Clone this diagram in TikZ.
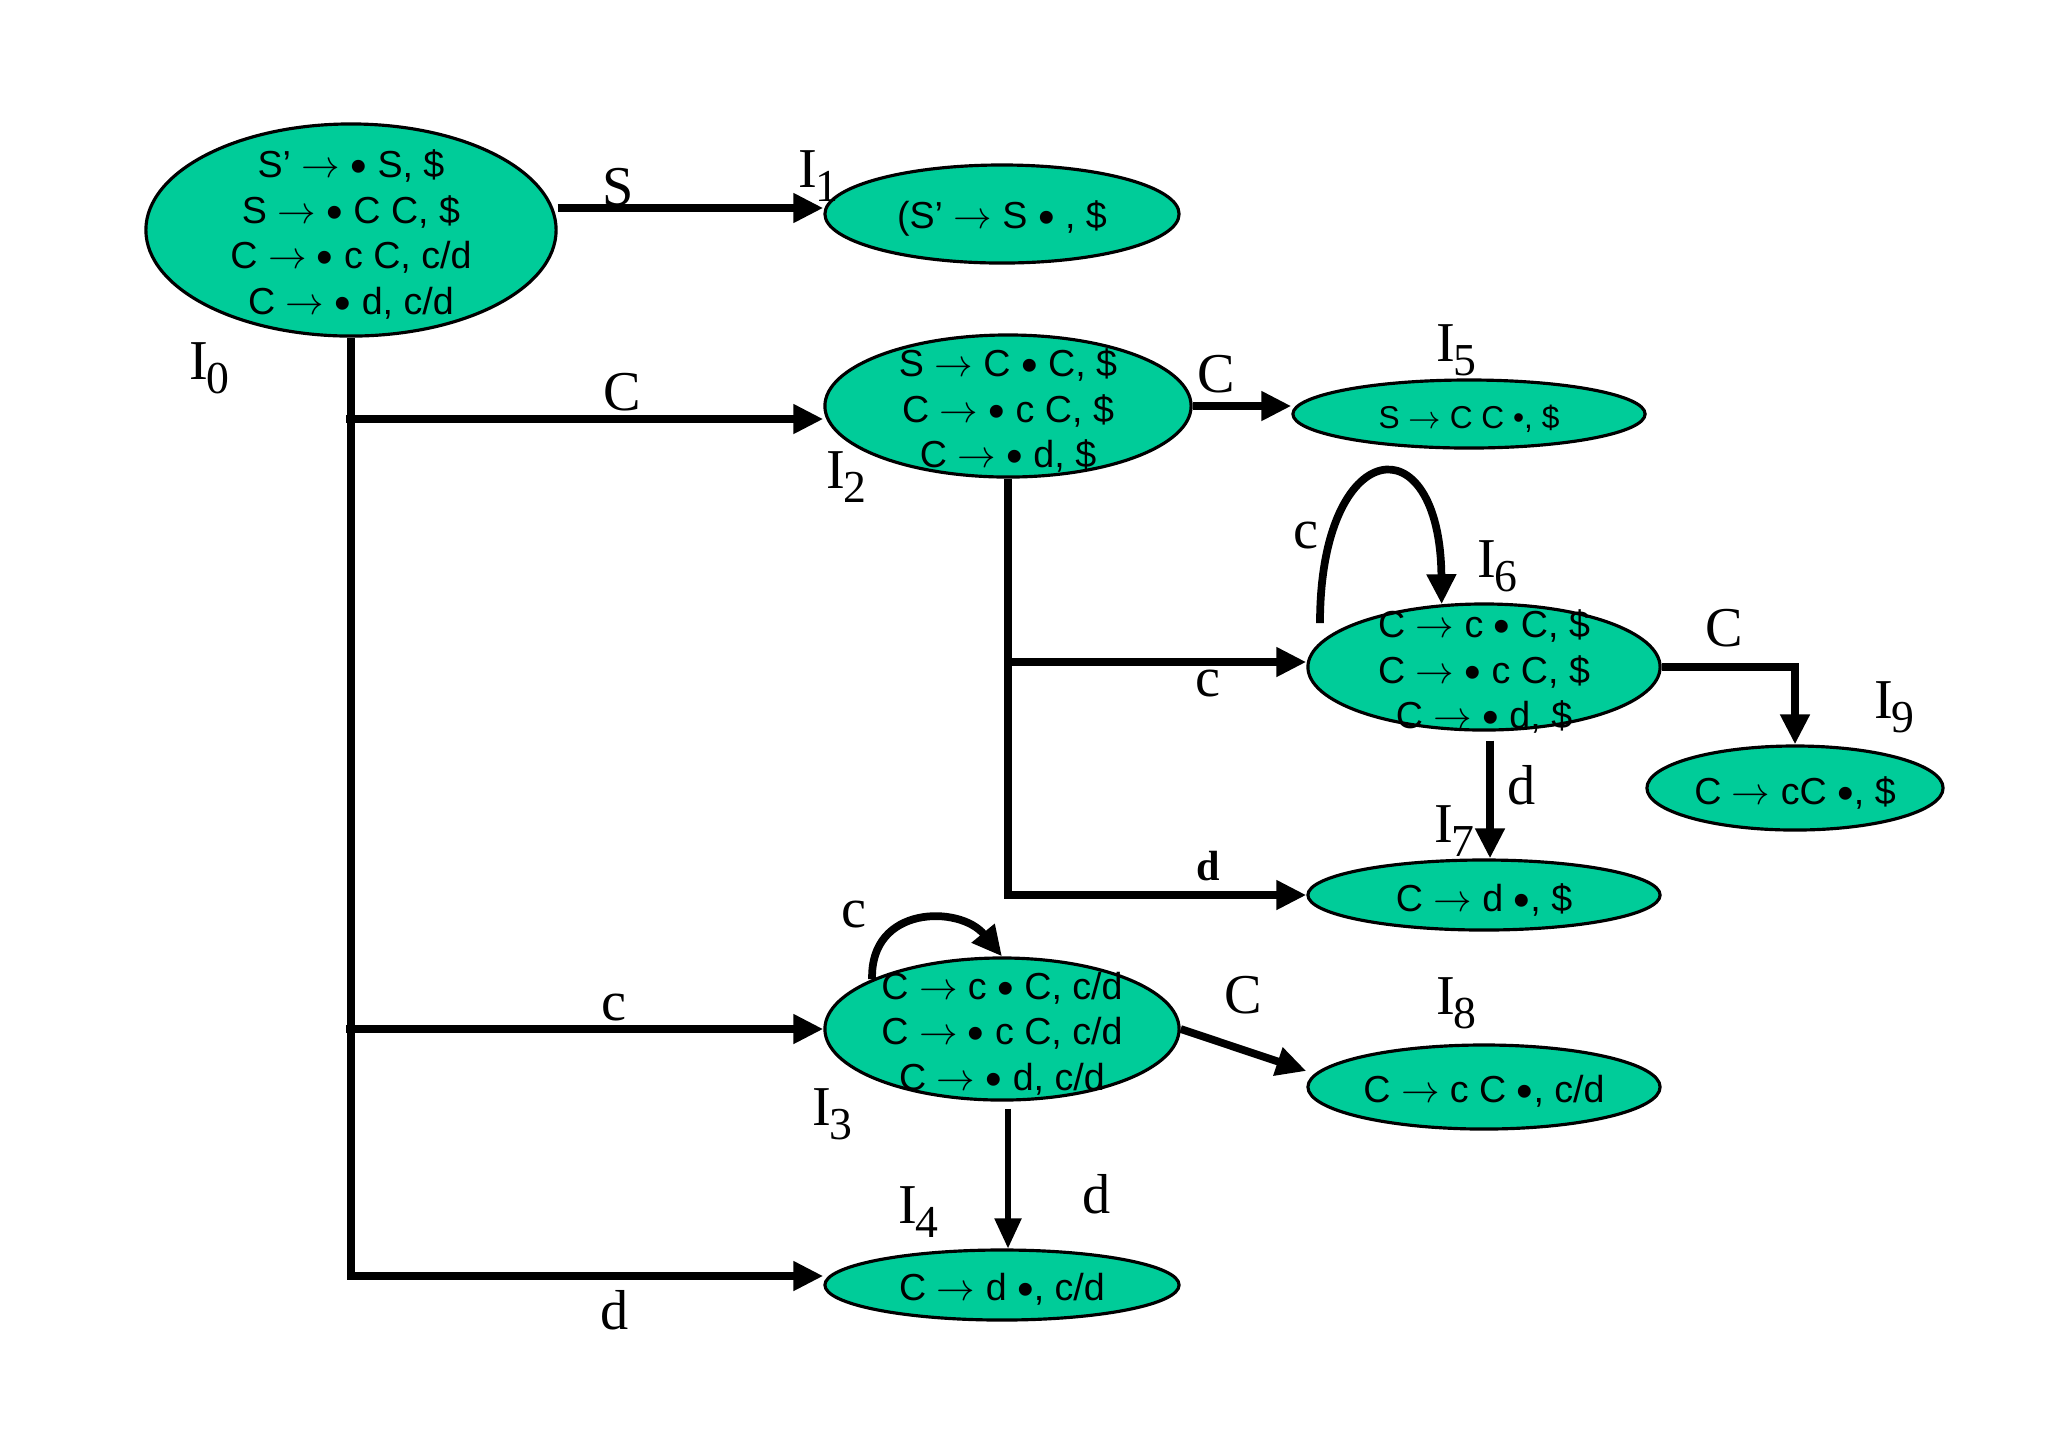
\documentclass[tikz,border=0pt]{standalone}
\usepackage{fontspec}
\setmainfont{Liberation Serif}
\newfontfamily\nodefont{Liberation Sans}
\usetikzlibrary{shapes.geometric,arrows.meta,calc}
\definecolor{statefill}{HTML}{00CC99}
\newcommand\Isub[1]{I\kern-0.03em\raisebox{-0.55ex}{\fontsize{13}{13}\selectfont #1}}
\newcommand\ra{$\rightarrow$}
\newcommand\bu{\smash{\raisebox{-0.25ex}{\fontsize{13.5}{13.5}\selectfont •}}}
\begin{document}
\begin{tikzpicture}[x=0.01cm,y=-0.01cm,
  state/.style={ellipse, draw=black, line width=0.9pt, fill=statefill, inner sep=0pt},
  items/.style={font=\nodefont\fontsize{10.7}{12.9}\selectfont, align=center, inner sep=0pt, yshift=-0.045cm},
  edge/.style={line width=2.2pt, -{Triangle[length=0.3cm,width=0.28cm]}},
  thinedge/.style={line width=1.5pt, -{Triangle[length=0.3cm,width=0.26cm]}},
  lab/.style={font=\fontsize{16}{16}\selectfont, inner sep=0pt},
  blab/.style={font=\fontsize{12}{12}\selectfont\bfseries, inner sep=0pt}]
\useasboundingbox[fill=white] (0,0) rectangle (2048,1447);

% states
\node[state, minimum width=4.10cm, minimum height=2.12cm] (I0) at (351,230) {};
\node[state, minimum width=3.54cm, minimum height=0.98cm] (I1) at (1002,214) {};
\node[state, minimum width=3.66cm, minimum height=1.42cm] (I2) at (1008,406) {};
\node[state, minimum width=3.52cm, minimum height=0.68cm] (I5) at (1469,414) {};
\node[state, minimum width=3.52cm, minimum height=1.26cm] (I6) at (1484,667) {};
\node[state, minimum width=2.96cm, minimum height=0.84cm] (I9) at (1795,788) {};
\node[state, minimum width=3.52cm, minimum height=0.70cm] (I7) at (1484,895) {};
\node[state, minimum width=3.54cm, minimum height=1.42cm] (I3) at (1002,1029) {};
\node[state, minimum width=3.52cm, minimum height=0.84cm] (I8) at (1484,1087) {};
\node[state, minimum width=3.54cm, minimum height=0.70cm] (I4) at (1002,1285) {};

% edges
\draw[edge] ([yshift=0.22cm]I0.east) -- ([yshift=0.22cm]I0.east -| I1.west);
\draw[edge] (I0.south) |- ([yshift=0.09cm]I4.west);
\coordinate (b2) at (351,419);
\draw[edge] ([xshift=-0.05cm]b2) -- (b2 -| I2.west);
\coordinate (b3) at (351,1029);
\draw[edge] ([xshift=-0.05cm]b3) -- (b3 -| I3.west);
\draw[edge] (I2.east) -- (I2.east -| I5.west);
\draw[edge] (I2.south) |- (I7.west);
\coordinate (b6) at (1008,662);
\draw[edge] (b6) -- (b6 -| I6.west);
\draw[edge] (I6.east) -| (I9.north);
\draw[edge] ([shift={(0.06cm,-0.09cm)}]I6.south) -- ([xshift=0.06cm]I7.north);
\coordinate (l6) at (1320,623);
\draw[edge] (l6) .. controls (1320,435) and (1440,420) .. (I6.124);
\draw[edge] (I3.159) .. controls (870,905) and (960,905) .. (I3.north);
\draw[edge] (I3.east) -- ([yshift=0.16cm]I8.west);
\draw[thinedge] ([shift={(0.06cm,-0.07cm)}]I3.south) -- ([xshift=0.06cm]I4.north);

% item texts
\node[items] (t0) at (I0) {S’ \ra{} \bu{} S, \$\\S \ra{} \bu{} C C, \$\\C \ra{} \bu{} c C, c/d\\C \ra{} \bu{} d, c/d};
\node[items] (t1) at (I1) {(S’ \ra{} S \bu{} , \$};
\node[items] (t2) at (I2) {S \ra{} C \bu{} C, \$\\C \ra{} \bu{} c C, \$\\C \ra{} \bu{} d, \$};
\node[items, font=\nodefont\fontsize{9}{11}\selectfont] (t5) at (I5) {S \ra{} C C •, \$};
\node[items] (t6) at (I6) {C \ra{} c \bu{} C, \$\\C \ra{} \bu{} c C, \$\\C \ra{} \bu{} d, \$};
\node[items] (t9) at (I9) {C \ra{} cC \bu, \$};
\node[items] (t7) at (I7) {C \ra{} d \bu, \$};
\node[items] (t3) at (I3) {C \ra{} c \bu{} C, c/d\\C \ra{} \bu{} c C, c/d\\C \ra{} \bu{} d, c/d};
\node[items] (t8) at (I8) {C \ra{} c C \bu, c/d};
\node[items] (t4) at (I4) {C \ra{} d \bu, c/d};

% state names
\node[lab] (n0) at (209,368) {\Isub{0}};
\node[lab] (n1) at (818,176) {\Isub{1}};
\node[lab] (n2) at (846,477) {\Isub{2}};
\node[lab] (n3) at (832,1114) {\Isub{3}};
\node[lab] (n4) at (918,1212) {\Isub{4}};
\node[lab] (n5) at (1456,350) {\Isub{5}};
\node[lab] (n6) at (1497,566) {\Isub{6}};
\node[lab] (n7) at (1454,831) {\Isub{7}};
\node[lab] (n8) at (1456,1003) {\Isub{8}};
\node[lab] (n9) at (1894,707) {\Isub{9}};

% edge labels
\node[lab] (e01) at (618,187) {S};
\node[lab] (e02) at (622,392) {C};
\node[lab] (e03) at (614,1007) {c};
\node[lab] (e04) at (615,1310) {d};
\node[lab] (e25) at (1216,374) {C};
\node[lab] (e26) at (1208,683) {c};
\node[blab] (e27) at (1208,866) {d};
\node[lab] (e66) at (1306,535) {c};
\node[lab] (e69) at (1724,628) {C};
\node[lab] (e67) at (1522,785) {d};
\node[lab] (e33) at (854,914) {c};
\node[lab] (e38) at (1243,995) {C};
\node[lab] (e34) at (1097,1194) {d};
\end{tikzpicture}
\end{document}
